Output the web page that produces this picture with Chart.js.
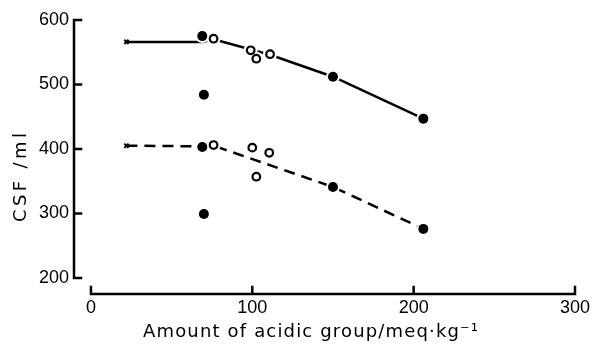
<!DOCTYPE html>
<html>
<head>
<meta charset="utf-8">
<script src="https://cdn.jsdelivr.net/npm/chart.js@4"></script>
<style>
  body { margin: 0; background: #fff; }
  canvas { display: block; }
</style>
</head>
<body>
<canvas id="csfChart" width="601" height="345"></canvas>
<script>
// values
const xTicks = [0, 100, 200, 300];
const yTicks = [200, 300, 400, 500, 600];

const upperLine = [[22, 566], [69, 566], [76, 570], [111, 546], [150, 512], [206, 447]];
const lowerLine = [[22, 405], [69, 404], [76, 405], [150, 341], [206, 276]];

const filledPts = [[69, 575], [70, 484], [150, 512], [206, 447], [69, 403], [70, 299], [150, 341], [206, 276]];
const openPts = [[76, 571], [99, 553], [102.5, 540], [111, 547], [76, 406], [100, 402], [110.5, 394], [102.5, 357]];
const crossPts = [[22, 566], [22, 405]];

const xTitle = 'Amount of acidic group/meq\u00b7kg\u207b\u00b9';
const yTitle = 'CSF /ml';

const toXY = arr => arr.map(p => ({ x: p[0], y: p[1] }));
const ink = '#000';
const tickFont = { family: 'Liberation Sans', size: 18 };

// axes drawn like the printed figure: separated, ticks pointing inward
const axesPlugin = {
  id: 'paperAxes',
  afterDraw(chart) {
    const { ctx, chartArea } = chart;
    const xs = chart.scales.x, ys = chart.scales.y;
    ctx.save();
    ctx.strokeStyle = ink;
    ctx.lineWidth = 2.5;
    ctx.lineCap = 'square';
    const ax = chartArea.left;
    ctx.beginPath();
    ctx.moveTo(ax, ys.getPixelForValue(200));
    ctx.lineTo(ax, ys.getPixelForValue(600));
    yTicks.forEach(v => {
      const py = ys.getPixelForValue(v);
      ctx.moveTo(ax, py);
      ctx.lineTo(ax + 7, py);
    });
    const by = chartArea.bottom;
    ctx.moveTo(xs.getPixelForValue(0), by);
    ctx.lineTo(xs.getPixelForValue(300), by);
    xTicks.forEach(v => {
      const px = xs.getPixelForValue(v);
      ctx.moveTo(px, by);
      ctx.lineTo(px, by - 7);
    });
    ctx.stroke();

    // axis titles, spaced out to the printed width
    ctx.fillStyle = ink;
    ctx.font = '18px "DejaVu Sans"';
    ctx.textBaseline = 'middle';
    ctx.textAlign = 'left';
    let w = ctx.measureText(xTitle).width;
    ctx.letterSpacing = ((335 - w) / (xTitle.length - 1)) + 'px';
    ctx.fillText(xTitle, 143, 332);
    ctx.letterSpacing = '0px';
    w = ctx.measureText(yTitle).width;
    ctx.letterSpacing = ((89 - w) / (yTitle.length - 1)) + 'px';
    ctx.translate(21, 222);
    ctx.rotate(-Math.PI / 2);
    ctx.fillText(yTitle, 0, 0);
    ctx.restore();
  }
};

const ctx = document.getElementById('csfChart').getContext('2d');
const csfChart = new Chart(ctx, {
  type: 'scatter',
  data: {
    datasets: [
      {
        type: 'line', data: toXY(upperLine), borderColor: ink, borderWidth: 2.5,
        pointRadius: 0, fill: false, order: 4
      },
      {
        type: 'line', data: toXY(lowerLine), borderColor: ink, borderWidth: 2.5,
        borderDash: [11, 7], pointRadius: 0, fill: false, order: 4
      },
      {
        data: toXY(filledPts.concat(openPts)), pointRadius: 7,
        backgroundColor: '#fff', borderWidth: 0, order: 3
      },
      {
        data: toXY(filledPts), pointRadius: 5, backgroundColor: ink,
        borderColor: ink, borderWidth: 0, order: 1
      },
      {
        data: toXY(openPts), pointRadius: 3.8, backgroundColor: '#fff',
        borderColor: ink, borderWidth: 2.2, order: 1
      },
      {
        data: toXY(crossPts), pointStyle: 'crossRot', pointRadius: 3,
        borderColor: ink, borderWidth: 2, order: 1
      }
    ]
  },
  options: {
    responsive: false,
    animation: false,
    layout: { padding: { left: 0, right: 26, top: 20, bottom: 0 } },
    plugins: { legend: { display: false }, tooltip: { enabled: false } },
    scales: {
      x: {
        type: 'linear', min: -10.5, max: 300,
        grid: { display: false, drawTicks: false },
        border: { display: false },
        ticks: { font: tickFont, color: ink, padding: 3 },
        afterBuildTicks: s => { s.ticks = xTicks.map(v => ({ value: v })); },
        afterFit: s => { s.height = 51; }
      },
      y: {
        type: 'linear', min: 175, max: 600,
        grid: { display: false, drawTicks: false },
        border: { display: false },
        ticks: { font: tickFont, color: ink, padding: 5 },
        afterBuildTicks: s => { s.ticks = yTicks.map(v => ({ value: v })); },
        afterFit: s => { s.width = 74; }
      }
    }
  },
  plugins: [axesPlugin]
});
</script>
</body>
</html>
